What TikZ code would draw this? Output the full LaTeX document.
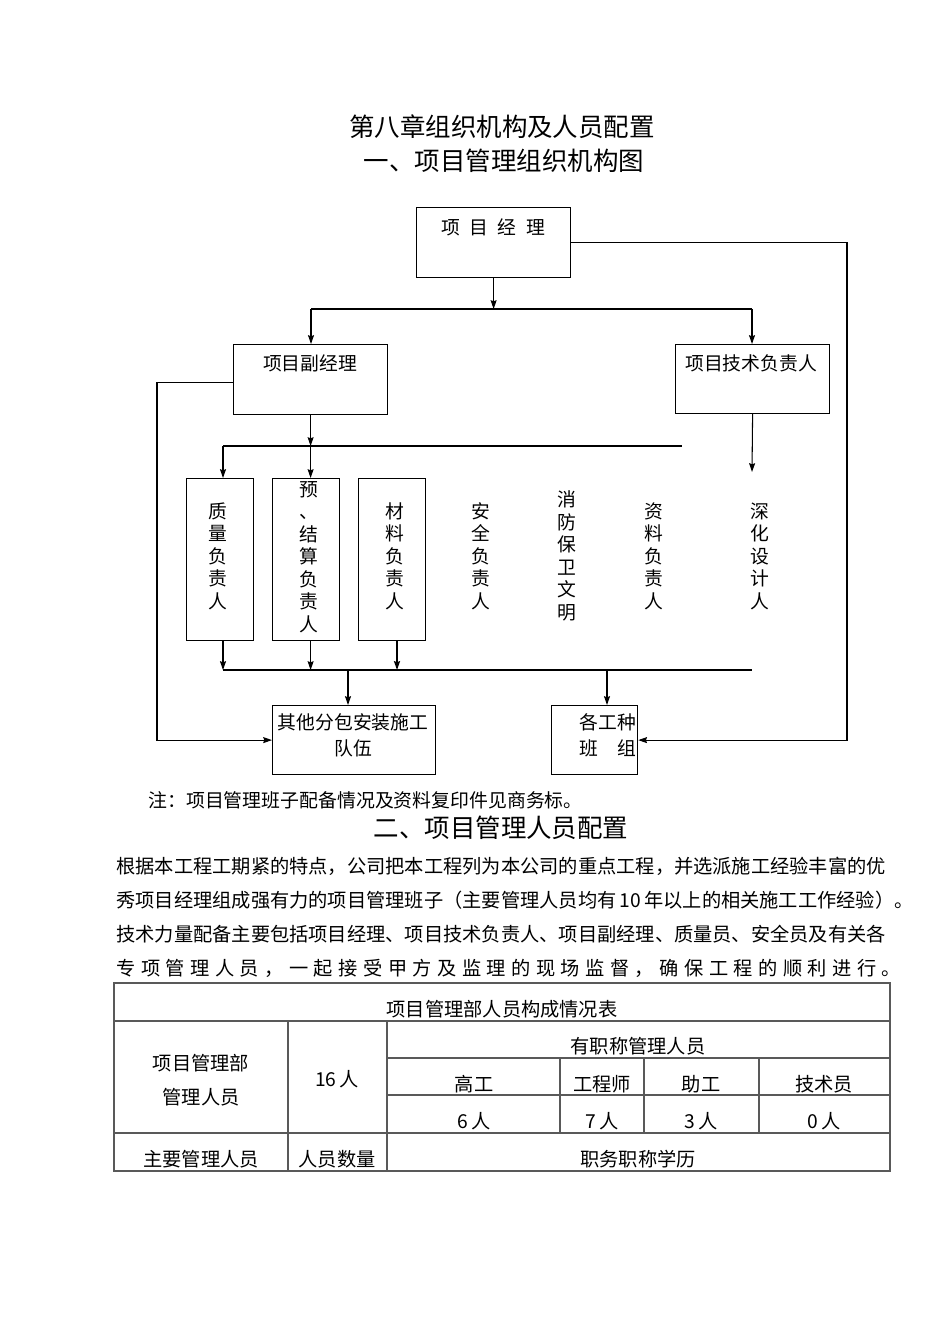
\documentclass[tikz,border=0pt]{standalone}
\usepackage{fontspec}
\setmainfont{Noto Sans CJK SC}
\usetikzlibrary{arrows.meta,calc}
\def\spreadA#1{\ifx\relax#1\else#1\hfil\expandafter\spreadA\fi}
\newcommand\spreadline[2]{\hbox to #1{\spreadA#2\relax\hskip 0pt plus -1fil}}
\begin{document}
\begin{tikzpicture}[x=0.02cm,y=-0.02cm,
  box/.style={draw,line width=0.7pt,inner sep=0pt,anchor=north west},
  lbl/.style={inner sep=0pt,font=\fontsize{10.7pt}{12.8pt}\selectfont},
  vtxt/.style={inner sep=0pt,align=center,font=\fontsize{10.7pt}{12.8pt}\selectfont},
  con/.style={line width=0.6pt},
  arr/.style={con,-{Stealth[length=5pt,width=3.4pt,inset=0.6pt]}},
  bus/.style={line width=1.4pt},
  title/.style={inner sep=0pt,font=\fontsize{14.5pt}{17pt}\selectfont},
  para/.style={inner sep=0pt,anchor=west,font=\fontsize{10.95pt}{13pt}\selectfont},
  tline/.style={draw=black!65,line width=0.6pt},
  ttxt/.style={inner sep=0pt,font=\fontsize{10.95pt}{13pt}\selectfont}]
\fill[white] (0,0) rectangle (950,1344);
\path[use as bounding box] (0,0) rectangle (950,1344);

% titles
\node[title] (t1) at (502,127) {第八章组织机构及人员配置};
\node[title] (t2) at (504,161) {一、项目管理组织机构图};

% boxes
\node[box,minimum width=3.08cm,minimum height=1.4cm] (pm) at (416,207) {};
\node[box,minimum width=3.08cm,minimum height=1.4cm] (dpm) at (233,344) {};
\node[box,minimum width=3.08cm,minimum height=1.38cm] (tech) at (675,344) {};
\node[box,minimum width=1.34cm,minimum height=3.24cm] (b1) at (186,478) {};
\node[box,minimum width=1.34cm,minimum height=3.24cm] (b2) at (272,478) {};
\node[box,minimum width=1.34cm,minimum height=3.24cm] (b3) at (358,478) {};
\node[box,minimum width=3.26cm,minimum height=1.38cm] (sub) at (272,705) {};
\node[box,minimum width=1.72cm,minimum height=1.38cm] (team) at (551,705) {};

% box texts
\node[lbl] (pmt) at (493,227) {项\hspace{0.19cm}目\hspace{0.19cm}经\hspace{0.19cm}理};
\node[lbl] (dpmt) at (310,363) {项目副经理};
\node[lbl] (techt) at (751,363) {项目技术负责人};
\node[vtxt] (b1t) at (218,556) {质\\量\\负\\责\\人};
\node[vtxt] (b2t) at (309,557) {预\\、\\结\\算\\负\\责\\人};
\node[vtxt] (b3t) at (395,556) {材\\料\\负\\责\\人};
\node[vtxt] (aq) at (481,556) {安\\全\\负\\责\\人};
\node[vtxt] (xf) at (567,556) {消\\防\\保\\卫\\文\\明};
\node[vtxt] (zl) at (654,556) {资\\料\\负\\责\\人};
\node[vtxt] (sh) at (760,556) {深\\化\\设\\计\\人};
\node[vtxt,font=\fontsize{10.7pt}{14.8pt}\selectfont] (subt) at (353,735) {其他分包安装施工\\队伍};
\node[vtxt,font=\fontsize{10.7pt}{14.8pt}\selectfont] (teamt) at (608,735) {各工种\\班\hspace{0.4cm}组};

% top bus
\coordinate (bus1L) at (311,309);
\coordinate (bus1R) at (752,309);
\draw[con] (bus1L) -- (bus1R);
\draw[arr] (pm.south) -- (pm.south |- bus1L);
\draw[arr] (bus1L) -- (bus1L |- dpm.north);
\draw[arr] (bus1R) -- (bus1R |- tech.north);

% feedback lines
\coordinate (R) at (847,0);
\coordinate (L) at (157,0);
\draw[arr] (pm.east) -- (pm.east -| R) -- (team.east -| R) -- (team.east);
\draw[arr] ($(dpm.west)+(0,3)$) -- ($(dpm.west -| L)+(0,3)$) -- (sub.west -| L) -- (sub.west);

% middle thick bus
\coordinate (bus2L) at (223,446);
\coordinate (bus2R) at (682,446);
\draw[bus] (bus2L) -- (bus2R);
\draw[arr] (dpm.south) -- (dpm.south |- bus2L);
\draw[arr] (dpm.south |- bus2L) -- (dpm.south |- b2.north);
\draw[arr] (bus2L) -- (bus2L |- b1.north);
\coordinate (techEnd) at (752,472);
\draw[arr] (tech.south) -- (techEnd);

% bottom bus
\coordinate (bus3L) at (223,670);
\coordinate (bus3R) at (752,670);
\draw[bus,line width=1.1pt] (bus3L) -- (bus3R);
\draw[arr] (bus3L |- b1.south) -- (bus3L);
\draw[arr] (dpm.south |- b2.south) -- (dpm.south |- bus3L);
\coordinate (m3) at (397,670);
\draw[arr,line width=1pt] (m3 |- b3.south) -- (m3);
\coordinate (s1) at (348,670);
\draw[arr] (s1) -- (s1 |- sub.north);
\coordinate (s2) at (607,670);
\draw[arr] (s2) -- (s2 |- team.north);

% note and section 2
\node[para,font=\fontsize{10.75pt}{13pt}\selectfont] (note) at (148,800) {注：项目管理班子配备情况及资料复印件见商务标。};
\node[title] (t3) at (501,828) {二、项目管理人员配置};

\node[para] (p1) at (116,866) {根据本工程工期紧的特点，公司把本工程列为本公司的重点工程，并选派施工经验丰富的优};
\node[para] (p2) at (116,900) {秀项目经理组成强有力的项目管理班子（主要管理人员均有\,10\,年以上的相关施工工作经验）。};
\node[para] (p3) at (116,934) {技术力量配备主要包括项目经理、项目技术负责人、项目副经理、质量员、安全员及有关各};
\node[para] (p4) at (116,968) {\spreadline{15.7cm}{专项管理人员，一起接受甲方及监理的现场监督，确保工程的顺利进行。}};

% table
\draw[tline] (114,983) rectangle (890,1171);
\draw[tline] (114,1021) -- (890,1021);
\draw[tline] (387,1058) -- (890,1058);
\draw[tline] (387,1095) -- (890,1095);
\draw[tline] (114,1133) -- (890,1133);
\draw[tline] (288,1021) -- (288,1171);
\draw[tline] (387,1021) -- (387,1171);
\draw[tline] (560,1058) -- (560,1133);
\draw[tline] (644,1058) -- (644,1133);
\draw[tline] (759,1058) -- (759,1133);

\node[ttxt] (tt) at (502,1009) {项目管理部人员构成情况表};
\node[ttxt] (c1a) at (201,1063) {项目管理部};
\node[ttxt] (c1b) at (201,1097) {管理人员};
\node[ttxt] (c2) at (337,1079) {16\,人};
\node[ttxt] (hz) at (638,1046) {有职称管理人员};
\node[ttxt] (h1) at (474,1084) {高工};
\node[ttxt] (h2) at (602,1084) {工程师};
\node[ttxt] (h3) at (701,1084) {助工};
\node[ttxt] (h4) at (824,1084) {技术员};
\node[ttxt] (v1) at (474,1121) {6\,人};
\node[ttxt] (v2) at (602,1121) {7\,人};
\node[ttxt] (v3) at (701,1121) {3\,人};
\node[ttxt] (v4) at (824,1121) {0\,人};
\node[ttxt] (r1) at (201,1159) {主要管理人员};
\node[ttxt] (r2) at (337,1159) {人员数量};
\node[ttxt] (r3) at (638,1159) {职务职称学历};
\end{tikzpicture}
\end{document}
